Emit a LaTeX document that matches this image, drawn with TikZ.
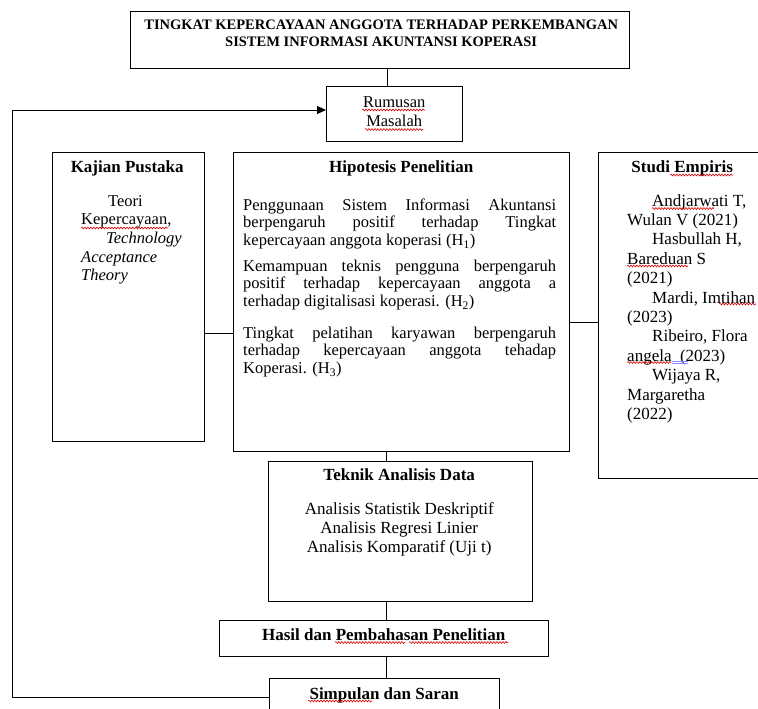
\documentclass[tikz,border=0pt]{standalone}
\usepackage{fontspec}
\setmainfont{Liberation Serif}
\usetikzlibrary{arrows.meta,decorations.pathmorphing}
\begin{document}
\begin{tikzpicture}[x=1pt,y=-1pt,
  box/.style={draw=black, line width=0.9pt, inner sep=0pt, anchor=north west},
  conn/.style={draw=black, line width=0.9pt},
  txt/.style={inner sep=0pt, anchor=base west},
  body/.style={font=\fontsize{17}{19.2}\selectfont},
  head/.style={font=\fontsize{17}{19.2}\selectfont\bfseries},
  squig/.style={draw=red!85!black, line width=0.6pt, decorate,
    decoration={snake, amplitude=0.9pt, segment length=3pt}},
  blueline/.style={draw=blue!45!white, line width=0.6pt},
]
\useasboundingbox (0,0) rectangle (758,709);
\begin{scope}
\clip (0,0) rectangle (758,709);
% boxes
\node[box, minimum width=499pt, minimum height=57pt] (title) at (130,11) {};
\node[box, minimum width=136pt, minimum height=55pt] (rumusan) at (326,86) {};
\node[box, minimum width=152pt, minimum height=289pt] (kajian) at (52,152) {};
\node[box, minimum width=336pt, minimum height=299pt] (hip) at (233,152) {};
\node[box, minimum width=180pt, minimum height=326pt] (studi) at (598,152) {};
\node[box, minimum width=264pt, minimum height=140pt] (teknik) at (268,461) {};
\node[box, minimum width=329pt, minimum height=36pt] (hasil) at (219,620) {};
\node[box, minimum width=230pt, minimum height=38pt] (simpulan) at (269,678) {};
% texts
\node[txt] (ttltxt) at (131.5,30) {\parbox[t]{499pt}{\centering\fontsize{14.5}{17}\selectfont\bfseries
  TINGKAT KEPERCAYAAN ANGGOTA TERHADAP PERKEMBANGAN\\SISTEM INFORMASI AKUNTANSI KOPERASI}};
\node[txt] (rumtxt) at (326,107) {\parbox[t]{136pt}{\centering\fontsize{16.5}{19.5}\selectfont Rumusan\\Masalah}};
\node[txt, head] (kajhead) at (52,172) {\parbox[t]{150pt}{\centering Kajian Pustaka}};
\node[txt] (kajtxt) at (81,206) {\parbox[t]{102pt}{\fontsize{16.5}{18.7}\selectfont
  \hspace*{27pt}Teori\\Kepercayaan,\\\hspace*{25pt}\textit{Technology}\\\textit{Acceptance}\\\textit{Theory}}};
\node[txt, head] (hiphead) at (233,172) {\parbox[t]{336pt}{\centering Hipotesis Penelitian}};
\node[txt] (h1) at (243,210) {\parbox[t]{313pt}{\fontsize{16.5}{17.9}\selectfont
  \makebox[\linewidth][s]{Penggunaan Sistem Informasi Akuntansi}\\
  \makebox[\linewidth][s]{berpengaruh positif terhadap Tingkat}\\
  kepercayaan anggota koperasi (H\textsubscript{1})}};
\node[txt] (h2) at (243,271) {\parbox[t]{313pt}{\fontsize{16.5}{17.9}\selectfont
  \makebox[\linewidth][s]{Kemampuan teknis pengguna berpengaruh}\\
  \makebox[\linewidth][s]{positif terhadap kepercayaan anggota a}\\
  terhadap digitalisasi koperasi. (H\textsubscript{2})}};
\node[txt] (h3) at (243,338) {\parbox[t]{313pt}{\fontsize{16.5}{17.9}\selectfont
  \makebox[\linewidth][s]{Tingkat pelatihan karyawan berpengaruh}\\
  \makebox[\linewidth][s]{terhadap kepercayaan anggota tehadap}\\
  Koperasi. (H\textsubscript{3})}};
\node[txt, head] (stuhead) at (602,172) {\parbox[t]{160pt}{\centering Studi Empiris}};
\node[txt] (stutxt) at (627,206) {\parbox[t]{131pt}{\fontsize{17}{19.4}\selectfont
  \hspace*{25pt}Andjarwati T,\\Wulan V (2021)\\\hspace*{25pt}Hasbullah H,\\Bareduan S\\(2021)\\
  \hspace*{25pt}Mardi, Imtihan\\(2023)\\\hspace*{25pt}Ribeiro, Flora\\angela\ \ (2023)\\
  \hspace*{25pt}Wijaya R,\\Margaretha\\(2022)}};
\node[txt, head] (tekhead) at (268,480) {\parbox[t]{262pt}{\centering Teknik Analisis Data}};
\node[txt, body] (tektxt) at (268,514) {\parbox[t]{262pt}{\centering
  Analisis Statistik Deskriptif\\Analisis Regresi Linier\\Analisis Komparatif (Uji t)}};
\node[txt, head] (hastxt) at (219,640) {\parbox[t]{329pt}{\centering Hasil dan Pembahasan Penelitian}};
\node[txt, head] (simtxt) at (269,699) {\parbox[t]{230pt}{\centering Simpulan dan Saran}};
% spell-check underlines shown in the reference
\path[squig] (362,110) -- (425,110);
\path[squig] (365,129.5) -- (423,129.5);
\path[squig] (81,228) -- (168,228);
\path[squig] (670,175) -- (733,175);
\path[squig] (652,208.5) -- (714,208.5);
\path[squig] (627,266) -- (688,266);
\path[squig] (719,304) -- (756,304);
\path[squig] (627,362.5) -- (671,362.5);
\draw[blueline] (672,361) -- (688,361) (672,363.5) -- (688,363.5);
\path[squig] (335,642.5) -- (405,642.5);
\path[squig] (409,642.5) -- (508,642.5);
\path[squig] (308,701) -- (372,701);
% connectors
\draw[conn] (title.south -| 387,0) -- (rumusan.north -| 387,0);
\draw[conn] (kajian.east |- 0,333) -- (hip.west |- 0,333);
\draw[conn] (hip.east |- 0,322) -- (studi.west |- 0,322);
\draw[conn] (hip.south -| 386,0) -- (teknik.north -| 386,0);
\draw[conn] (teknik.south -| 386,0) -- (hasil.north -| 386,0);
\draw[conn] (hasil.south -| 386,0) -- (simpulan.north -| 386,0);
\coordinate (lb) at (12,697);
\coordinate (lt) at (12,110);
\draw[conn, -{Triangle[length=9pt,width=8pt]}] (simpulan.west |- lb) -- (lb) -- (lt) -- (rumusan.west |- lt);
\end{scope}
\end{tikzpicture}
\end{document}
